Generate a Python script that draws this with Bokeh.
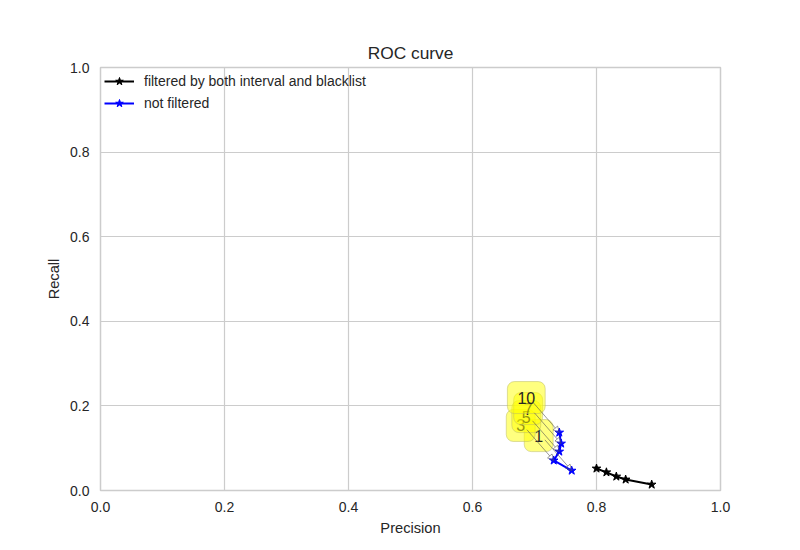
from bokeh.plotting import figure
from bokeh.models import Range1d, Arrow, NormalHead, ColumnDataSource, Legend, LegendItem
from bokeh.core.properties import value
from bokeh.embed import file_html
from bokeh.resources import INLINE

k_labels = ["1", "3", "5", "7", "10"]
nf_precision = [0.760, 0.731, 0.740, 0.743, 0.740]
nf_recall = [0.047, 0.071, 0.092, 0.111, 0.137]
f_precision = [0.889, 0.847, 0.832, 0.816, 0.800]
f_recall = [0.014, 0.026, 0.033, 0.043, 0.052]

FONT = "Liberation Sans"
grid = "#cccccc"

p = figure(width=792, height=542, output_backend="svg", toolbar_location=None,
           x_range=Range1d(0, 1), y_range=Range1d(0, 1),
           min_border_left=100, min_border_right=72, min_border_top=67, min_border_bottom=52,
           title="ROC curve")
p.title.align = "center"
p.title.text_font = FONT
p.title.text_font_size = "13pt"
p.title.text_font_style = "normal"
p.title.text_color = "#262626"
p.outline_line_color = grid
p.outline_line_width = 1.5
for ax in (p.xaxis, p.yaxis):
    ax.axis_line_color = None
    ax.major_tick_line_color = None
    ax.minor_tick_line_color = None
    ax.major_label_text_font = FONT
    ax.major_label_text_font_size = "10.5pt"
    ax.major_label_text_color = "#262626"
    ax.axis_label_text_font = FONT
    ax.axis_label_text_font_size = "11pt"
    ax.axis_label_text_font_style = "normal"
    ax.axis_label_text_color = "#262626"
p.xaxis.ticker = [0, 0.2, 0.4, 0.6, 0.8, 1.0]
p.yaxis.ticker = [0, 0.2, 0.4, 0.6, 0.8, 1.0]
p.xaxis.major_label_overrides = {0: "0.0", 1: "1.0"}
p.yaxis.major_label_overrides = {0: "0.0", 1: "1.0"}
p.xaxis.axis_label = "Precision"
p.yaxis.axis_label = "Recall"
p.grid.grid_line_color = grid
p.grid.grid_line_width = 1.2

l1 = p.line(f_precision, f_recall, color="black", line_width=2)
s1 = p.scatter(f_precision, f_recall, marker="star", size=9, color="black")
l2 = p.line(nf_precision, nf_recall, color="blue", line_width=2)
s2 = p.scatter(nf_precision, nf_recall, marker="star", size=9, color="blue")

# annotations: offset (-33px, +35px) converted to data units
dx, dy = -33 / 620, 35 / 423
lx = [x + dx for x in nf_precision]
ly = [y + dy for y in nf_recall]
for x0, y0, x1, y1 in zip(lx, ly, nf_precision, nf_recall):
    p.add_layout(Arrow(end=NormalHead(size=6, fill_color=None, line_color="#555555", line_width=0.6),
                       x_start=x0 + 0.01, y_start=y0 - 0.01, x_end=x1, y_end=y1,
                       line_color="#555555", line_width=0.6))
src = ColumnDataSource(dict(x=lx, y=ly, t=k_labels))
p.text("x", "y", text="t", source=src, text_align="center", text_baseline="middle",
       text_font=value(FONT), text_font_size="12pt", text_color="#262626",
       background_fill_color="yellow", background_fill_alpha=0.5,
       border_line_color="#bbbb66", border_line_alpha=0.5, border_radius=7, padding=10)

legend = Legend(items=[LegendItem(label="filtered by both interval and blacklist", renderers=[l1, s1]),
                       LegendItem(label="not filtered", renderers=[l2, s2])],
                location="top_left", border_line_color=None, background_fill_alpha=0,
                label_text_font=FONT, label_text_font_size="10.5pt", label_text_color="#262626",
                glyph_width=30, label_standoff=10, spacing=2, padding=2, margin=4)
p.add_layout(legend)

open("out.html", "w").write(file_html(p, INLINE))
